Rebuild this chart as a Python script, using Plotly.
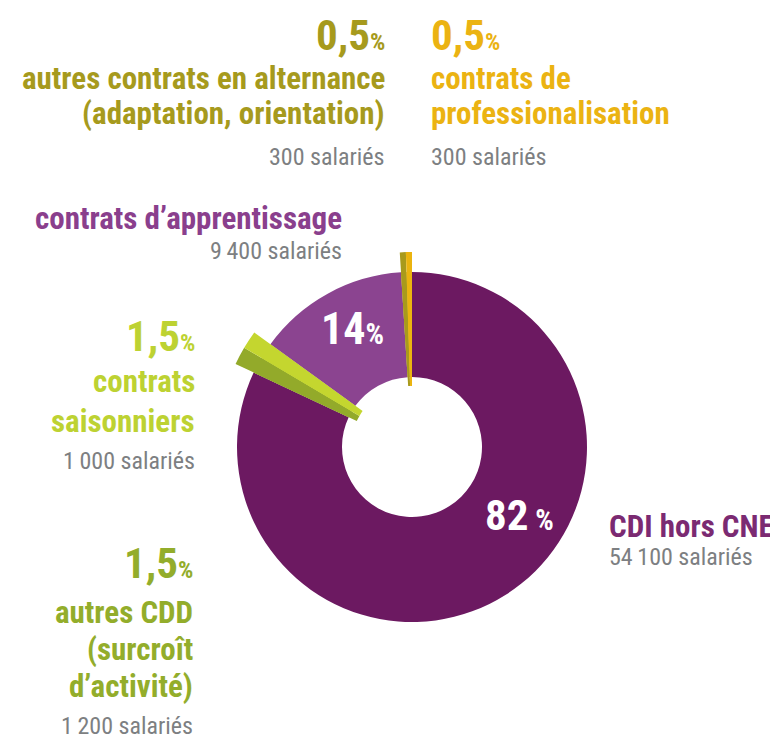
import plotly.graph_objects as go

# ---------------- data ----------------
categories = [
    "CDI hors CNE",
    "autres CDD<br>(surcroît<br>d’activité)",
    "contrats<br>saisonniers",
    "contrats d’apprentissage",
    "autres contrats en alternance<br>(adaptation, orientation)",
    "contrats de<br>professionalisation",
]
percentages = [82, 1.5, 1.5, 14, 0.5, 0.5]
salaries = [54100, 1200, 1000, 9400, 300, 300]

# ---------------- style ----------------
W, H = 778, 747
OFF = 8   # page body margin of the exported html
slice_colors = ["#6c1961", "#93aa2a", "#c4d62f", "#8b4490", "#a89a1c", "#ebb40f"]
label_colors = ["#7b2a72", "#93ad2b", "#bdd232", "#8a3f8d", "#a69a1d", "#ebb312"]
GRAY = "#7d7f82"
FONT = "Liberation Sans Narrow, Roboto Condensed, DejaVu Sans Condensed, Arial Narrow, sans-serif"

CX, CY = 412, 447          # donut centre (px, in the picture)
R_MAIN, HOLE_MAIN = 175, 0.40
R_SMALL, HOLE_SMALL = 195, 0.313
big_slices = {0, 3}


def px_x(px):
    return (px - OFF) / W


def px_y(py):
    return 1 - (py - OFF) / H


def dom(r):
    return dict(x=[px_x(CX - r), px_x(CX + r)],
                y=[px_y(CY + r), px_y(CY - r)])


def fmt_pct(p):
    return f"{p:g}".replace(".", ",")


def fmt_n(n):
    return f"{n:,}".replace(",", "\u2009")


fig = go.Figure()
fig.add_trace(go.Pie(
    labels=categories, values=percentages, sort=False, direction="clockwise",
    rotation=0, hole=HOLE_MAIN, domain=dom(R_MAIN),
    marker=dict(colors=slice_colors, line=dict(width=0)),
    textinfo="none", hoverinfo="label+percent", showlegend=False,
))
fig.add_trace(go.Pie(
    labels=categories, values=percentages, sort=False, direction="clockwise",
    rotation=0, hole=HOLE_SMALL, domain=dom(R_SMALL),
    marker=dict(colors=[("rgba(0,0,0,0)" if i in big_slices else c)
                        for i, c in enumerate(slice_colors)],
                line=dict(width=0)),
    textinfo="none", hoverinfo="skip", showlegend=False,
))

# label placement: x, anchor, y-centres of each line (pct line first when shown)
placement = {
    0: dict(x=607, a="left", ys=[526, 557], pct=False),
    1: dict(x=195, a="right", ys=[563, 612, 649, 686, 726], pct=True),
    2: dict(x=197, a="right", ys=[336, 381, 421, 461], pct=True),
    3: dict(x=344, a="right", ys=[219, 251], pct=False),
    4: dict(x=387, a="right", ys=[35, 78, 114, 157], pct=True),
    5: dict(x=429, a="left", ys=[35, 78, 114, 157], pct=True),
}

annotations = []


def add(text, px, py, anchor, size, color, bold=True):
    annotations.append(dict(
        text=f"<b>{text}</b>" if bold else text,
        x=px_x(px), y=px_y(py), xref="paper", yref="paper",
        xanchor=anchor, yanchor="middle", showarrow=False,
        font=dict(family=FONT, size=size, color=color),
    ))


for i, cat in enumerate(categories):
    p = placement[i]
    lines = []
    if p["pct"]:
        lines.append((fmt_pct(percentages[i]) + "<span style='font-size:24px'>%</span>", 43, label_colors[i], True))
    for ln in cat.split("<br>"):
        lines.append((ln, 31, label_colors[i], True))
    lines.append((fmt_n(salaries[i]) + " salariés", 24, GRAY, False))
    for (txt, sz, col, b), y in zip(lines, p["ys"]):
        add(txt, p["x"], y, p["a"], sz, col, b)

# percentages inside the ring
add(fmt_pct(percentages[3]) + "<span style='font-size:29px'>%</span>", 352, 329, "center", 44, "white")
add(fmt_pct(percentages[0]) + "<span style='font-size:29px'> %</span>", 520, 515, "center", 43, "white")

fig.update_layout(
    width=W, height=H, margin=dict(l=0, r=0, t=0, b=0),
    paper_bgcolor="white", plot_bgcolor="white",
    annotations=annotations, showlegend=False,
)
fig.write_html("out.html")
